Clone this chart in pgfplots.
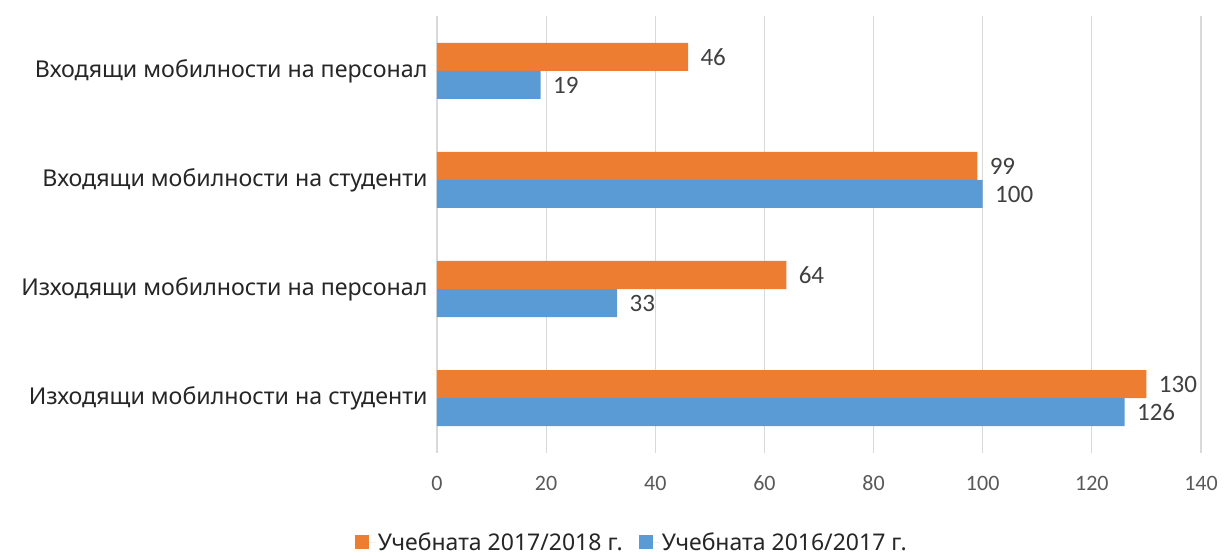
\documentclass[border=0pt]{standalone}
\usepackage{fontspec}
\setmainfont{Noto Sans}
\newfontfamily\carlito{Carlito}
\usepackage{pgfplots}
\pgfplotsset{compat=1.18}
\definecolor{cOr}{HTML}{ED7D31}
\definecolor{cBl}{HTML}{5B9BD5}
\definecolor{cGr}{HTML}{D9D9D9}
\begin{document}
\begin{tikzpicture}
\path (-437bp,-101.5bp) rectangle (794bp,452.5bp);
\begin{axis}[
 at={(0,0)}, anchor=south west,
 scale only axis, width=764bp, height=436bp,
 xmin=0, xmax=140, ymin=-0.5, ymax=3.5,
 xtick={0,20,...,140},
 ytick={0,1,2,3},
 yticklabels={Изходящи мобилности на студенти, Изходящи мобилности на персонал, Входящи мобилности на студенти, Входящи мобилности на персонал},
 axis line style={draw=none},
 xmajorgrids, grid style={cGr, line width=1.2bp},
 major tick length=0pt,
 xticklabel style={font=\carlito\fontsize{22bp}{26bp}\selectfont, text=black!65, anchor=center, yshift=-31bp},
 yticklabel style={font=\fontsize{23.2bp}{28bp}\selectfont, text=black!85, anchor=east, xshift=-6bp},
 /pgf/number format/assume math mode=true,
 xbar, bar width=28bp,
 nodes near coords,
 nodes near coords style={font=\carlito\fontsize{25bp}{30bp}\selectfont, text=black!75, anchor=west, xshift=9bp},
 legend style={at={(0.255,-0.206)}, anchor=center, legend columns=2, draw=none, font=\fontsize{23bp}{28bp}\selectfont, text=black!85,
   /tikz/every even column/.append style={column sep=14bp}},
 legend image code/.code={\fill[#1] (0bp,-7bp) rectangle (14bp,7bp); \path (0bp,0bp) -- (21bp,0bp);},
]
\addplot[fill=cOr, draw=none, bar shift=14bp] coordinates {(130,0) (64,1) (99,2) (46,3)};
\addplot[fill=cBl, draw=none, bar shift=-14bp] coordinates {(126,0) (33,1) (100,2) (19,3)};
\legend{Учебната 2017/2018 г., Учебната 2016/2017 г.}
\end{axis}
\end{tikzpicture}
\end{document}
